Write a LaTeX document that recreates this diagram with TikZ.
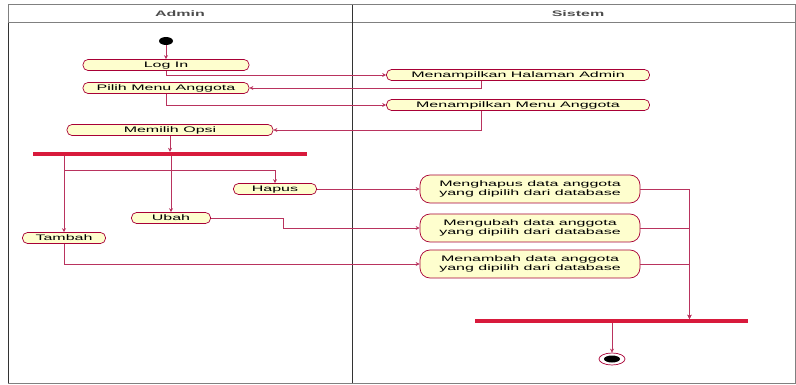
\documentclass[tikz,border=0pt]{standalone}
\usepackage{xcolor}
\usepackage{fontspec}
\usepackage{tikz}
\usetikzlibrary{positioning,arrows.meta,shapes.geometric}
\newfontfamily\umlfont[FakeStretch=2]{Liberation Sans}
\definecolor{umlred}{HTML}{A80036}
\definecolor{umlbar}{HTML}{D81A3C}
\definecolor{umlfill}{HTML}{FEFECE}

\begin{document}
\begin{tikzpicture}[x=1pt, y=-1pt,
  act/.style={draw=umlred, fill=umlfill, rounded corners=5pt, line width=0.7pt, minimum height=11pt, inner sep=0pt, text height=5.8pt, text depth=1.6pt, align=center, font=\umlfont\fontsize{8}{9.5}\selectfont},
  actbig/.style={act, text height=, text depth=, rounded corners=10pt, minimum height=28pt, minimum width=220pt},
  bar/.style={fill=umlbar, draw=none, minimum height=4pt, inner sep=0pt},
  arr/.style={-{Stealth[length=4pt, width=4pt]}, draw=umlred!80, line width=0.6pt},
  lane/.style={draw=gray, line width=1pt},
  lanetitle/.style={font=\umlfont\bfseries\fontsize{8}{9}\selectfont, text=black!70}]
  \useasboundingbox (0,0) rectangle (796,385);
  % swimlanes
  \draw[lane] (8,5) rectangle (795,383);
  \draw[lane] (8,23) -- (795,23);
  \draw[draw=black!80, line width=1pt] (8,23) -- (8,383);
  \draw[draw=black!80, line width=1pt] (352,5) -- (352,383);
  \node[lanetitle] (admin) at (180,14) {Admin};
  \node[lanetitle] (sistem) at (578,14) {Sistem};
  % admin side
  \node[ellipse, fill=black, minimum width=14pt, minimum height=8pt, inner sep=0pt] (start) at (166,41) {};
  \node[act, minimum width=166pt] (login) at (166,65) {Log In};
  \node[act, minimum width=166pt] (pilih) at (166,88) {Pilih Menu Anggota};
  \node[act, minimum width=206pt] (opsi) at (170,130) {Memilih Opsi};
  \node[bar, minimum width=274pt] (fork) at (170,154) {};
  \node[act, minimum width=83pt] (hapus) at (275,189) {Hapus};
  \node[act, minimum width=79pt] (ubah) at (171,218) {Ubah};
  \node[act, minimum width=83pt] (tambah) at (64,238) {Tambah};
  % sistem side
  \node[act, minimum width=263pt] (halaman) at (518,75) {Menampilkan Halaman Admin};
  \node[act, minimum width=263pt] (menu) at (518,105) {Menampilkan Menu Anggota};
  \node[actbig] (hapusdb) at (530,189) {Menghapus data anggota\\yang dipilih dari database};
  \node[actbig] (ubahdb) at (530,228) {Mengubah data anggota\\yang dipilih dari database};
  \node[actbig] (tambahdb) at (530,264) {Menambah data anggota\\yang dipilih dari database};
  \node[bar, minimum width=273pt] (join) at (611.5,321) {};
  \node[ellipse, draw=umlred, fill=white, line width=0.7pt, minimum width=26pt, minimum height=12pt, inner sep=0pt] (stop) at (612,359) {};
  \node[ellipse, fill=black, minimum width=16pt, minimum height=7pt, inner sep=0pt] at (stop) {};
  % flows
  \draw[arr] (start) -- (login);
  \draw[arr] (login.south) |- (halaman.west);
  \draw[arr] ([xshift=-37pt]halaman.south) |- (pilih.east);
  \draw[arr] (pilih.south) |- (menu.west);
  \draw[arr] ([xshift=-37pt]menu.south) |- (opsi.east);
  \draw[arr] (opsi.south) -- (opsi.south |- fork.north);
  \draw[arr] (fork.south -| tambah.north) -- (tambah.north);
  \draw[arr] (fork.south -| tambah.north) -- ++(0,14) -| (hapus.north);
  \draw[arr] (ubah.north |- fork.south) -- (ubah.north);
  \draw[arr] (hapus) -- (hapusdb);
  \draw[arr] (ubah.east) -- ++(72,0) |- (ubahdb.west);
  \draw[arr] (tambah.south) |- (tambahdb.west);
  \draw[arr] (hapusdb.east) -| ([xshift=78pt]join.north);
  \draw[arr] (ubahdb.east) -| ([xshift=78pt]join.north);
  \draw[arr] (tambahdb.east) -| ([xshift=78pt]join.north);
  \draw[arr] (join.south -| stop.north) -- (stop.north);
\end{tikzpicture}
\end{document}
